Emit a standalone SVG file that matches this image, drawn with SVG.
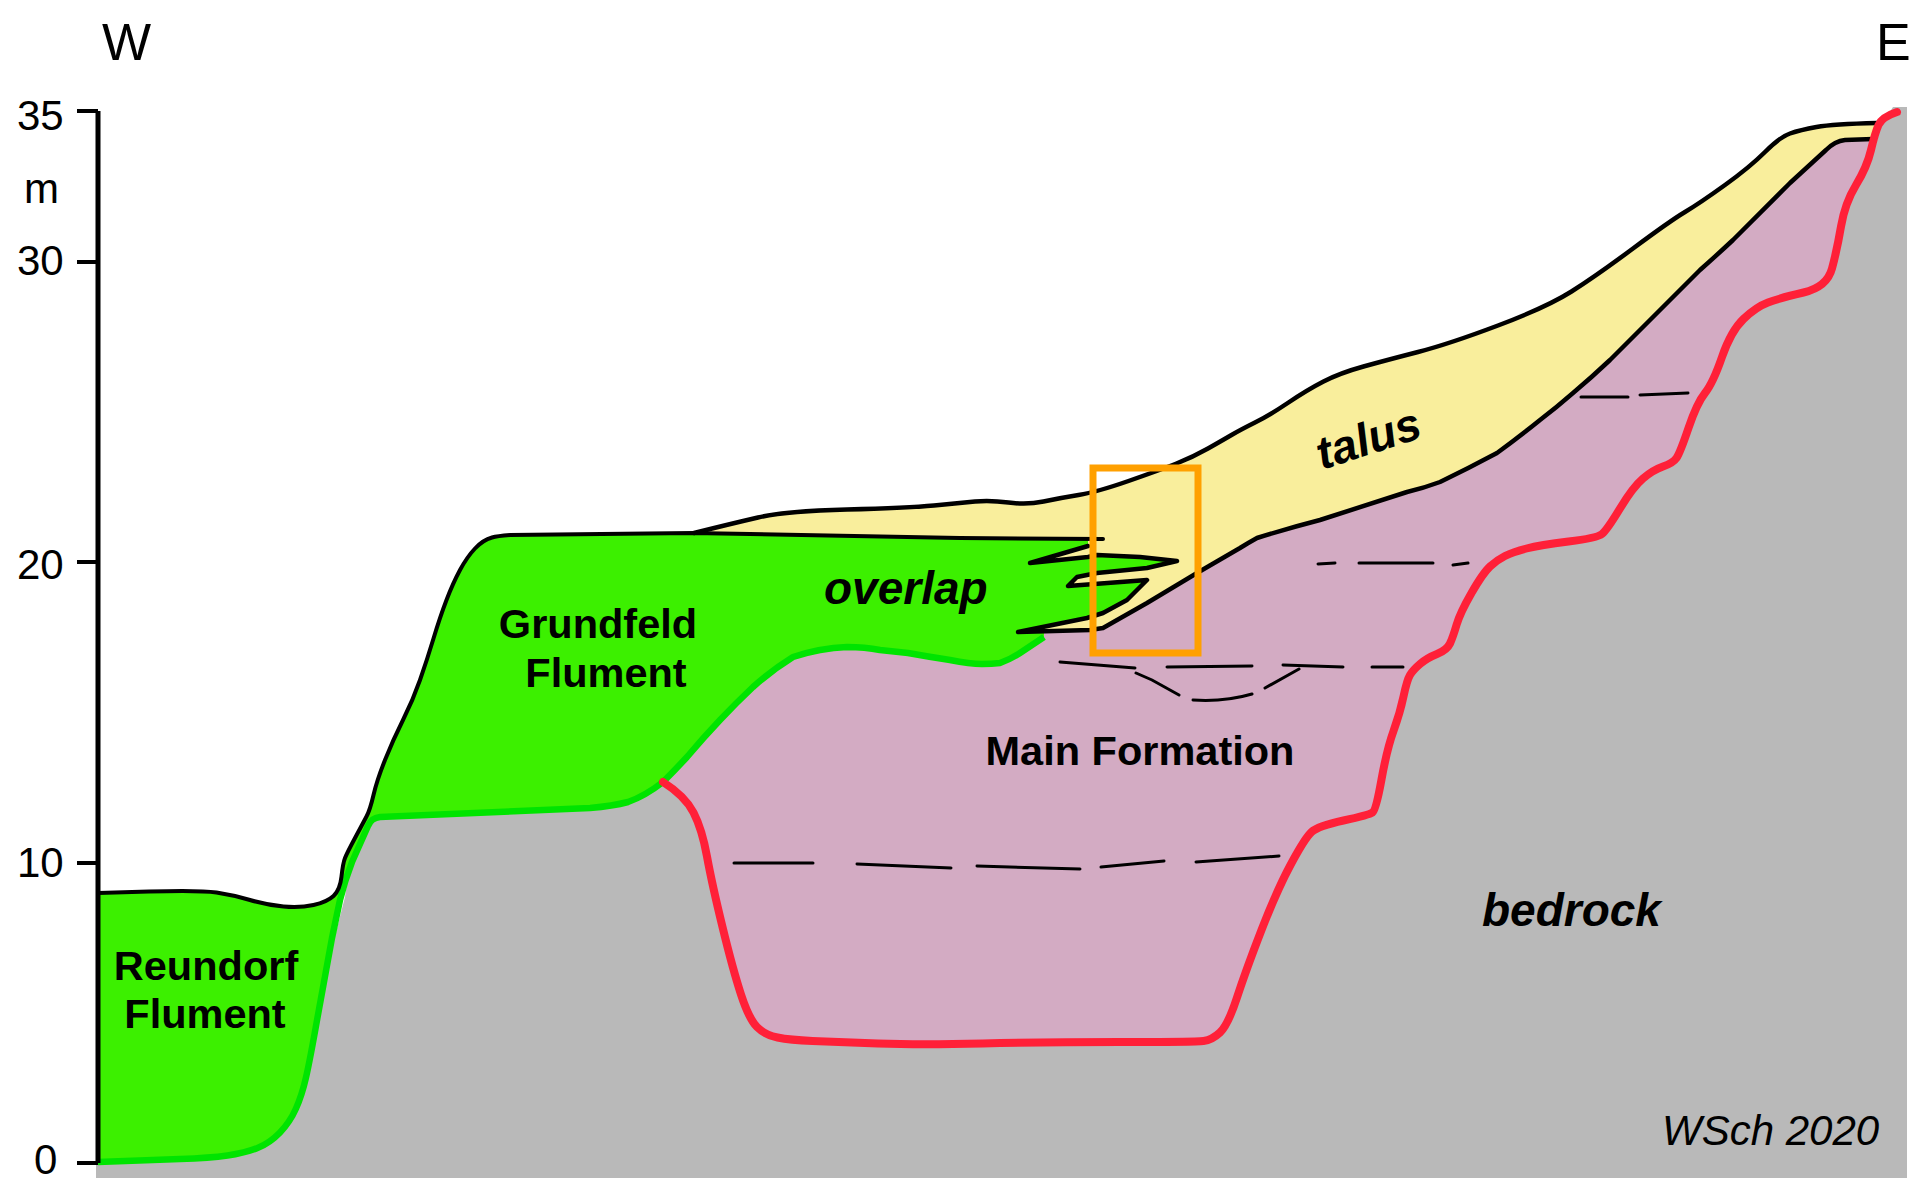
<svg xmlns="http://www.w3.org/2000/svg" width="1925" height="1201" viewBox="0 0 1925 1201">
<style>
.fill{stroke:none}
.ln{fill:none;stroke:#000;stroke-linejoin:round;stroke-linecap:round}
.t{font-family:"Liberation Sans",Arial,sans-serif;fill:#000}
.ax{font-size:42px}
.lab{font-size:41.5px;font-weight:bold}
.it{font-size:46px;font-weight:bold;font-style:italic}
.dash{fill:none;stroke:#000;stroke-width:3;stroke-linecap:round}
</style>
<rect width="1925" height="1201" fill="#fff"/>
<g id="bedrock">
<polygon class="fill" fill="#b9b9b9" points="96,1178 1907,1178 1907,107 1893,107 1872,140 1700,300 900,640 663,782 613,806 373,817 350,862 345,897 325,975 310,1060 302,1095 290,1122 270,1143 245,1153 210,1158 150,1160 96,1162"/>
</g>
<g id="talus">
<path class="fill" fill="#f9ee9c" d="M694,533 Q730,524 758,517.5 Q786,511 847,509.5 Q908,508 934,505.5 Q960,503 975,501.5 Q990,500 1008.5,502.5 Q1027,505 1043.5,501.5 Q1060,498 1078.5,495 Q1097,492 1128.5,481 Q1160,470 1176.5,463.5 Q1193,457 1208,448.5 Q1223,440 1231.5,435 Q1240,430 1255,422.5 Q1270,415 1288.5,402.5 Q1307,390 1323.5,381.5 Q1340,373 1363.5,366.5 Q1387,360 1418,352 Q1449,344 1498,325.5 Q1547,307 1571.5,291.5 Q1596,276 1633,248.5 Q1670,221 1685,212 Q1700,203 1725,185 Q1750,167 1765,152 Q1780,137 1790,133.5 Q1800,130 1816.5,127 Q1833,124 1877,123 L1878,140 L1845,140 Q1835,141 1826,150 L1790,183 L1733,240 Q1717,255 1700,270 L1610,360 Q1592,377 1573,393 Q1557,407 1540,420 Q1519,437 1497,453 Q1469,468 1440,482 Q1424,488 1407,492 L1320,520 Q1289,528 1257,538 Q1248,543 1240,548 L1197,573 L1147,603 L1103,628 L1090,630 L1018,632 L960,600 L960,538 Z"/>
</g>
<g id="main-formation">
<path class="fill" fill="#d3abc3" d="M663,782 Q685,796 693.5,812.5 Q702,829 707,856.5 Q712,884 722.5,927 Q733,970 741,994.5 Q749,1019 757,1027 Q765,1035 777.5,1037.5 Q790,1040 812.5,1041 Q835,1042 878,1043.5 Q921,1045 982.5,1043.5 Q1044,1042 1119.5,1042 Q1195,1042 1203.5,1041 Q1212,1040 1220,1032.5 Q1228,1025 1237,997.5 Q1246,970 1261.5,930 Q1277,890 1291,864 Q1305,838 1311.5,832 Q1318,826 1343.5,820.5 Q1369,815 1372.5,812.5 Q1376,810 1381.5,779.5 Q1387,749 1393.5,731 Q1400,713 1403.5,696.5 Q1407,680 1410,675 Q1413,670 1420,664 Q1427,658 1437,654 Q1447,650 1450,643.5 Q1453,637 1456.5,625 Q1460,613 1471.5,593 Q1483,573 1490,566.5 Q1497,560 1505,556 Q1513,552 1526.5,548.5 Q1540,545 1568.5,541.5 Q1597,538 1602,534 Q1607,530 1620,508.5 Q1633,487 1643,478.5 Q1653,470 1663,466.5 Q1673,463 1676.5,458 Q1680,453 1688.5,428 Q1697,403 1705,393 Q1713,383 1722,357 Q1731,331 1743.5,319 Q1756,307 1768,302.5 Q1780,298 1803.5,292.5 Q1827,287 1832,268.5 Q1837,250 1841,226.5 Q1845,203 1856,185 Q1867,167 1871,150 L1878,139 L1845,140 Q1835,141 1826,150 L1790,183 L1733,240 Q1717,255 1700,270 L1610,360 Q1592,377 1573,393 Q1557,407 1540,420 Q1519,437 1497,453 Q1469,468 1440,482 Q1424,488 1407,492 L1320,520 Q1289,528 1257,538 Q1248,543 1240,548 L1197,573 L1147,603 L1103,628 L1090,630 L1044,631 L1044,637 L1000,650 L880,640 L793,650 L720,710 Z"/>
</g>
<g id="flument">
<path class="fill" fill="#3cf000" d="M98,893 L149,891.5 Q200,890 216.5,892.5 Q233,895 250,900 Q267,905 283.5,906.5 Q300,908 313.5,905 Q327,902 333.5,896 Q340,890 341.5,876.5 Q343,863 345,858 Q347,853 355,838 Q363,823 366.5,816.5 Q370,810 373.5,795 Q377,780 385,760 Q393,740 403,720 Q413,700 420,680 Q427,660 433.5,638.5 Q440,617 446.5,600 Q453,583 460,570 Q467,557 475,548.5 Q483,540 492,537.5 Q497,536 510,535 L693,533 L960,538 L1088,540 L1088,546 L1030,563 L1088,557 L1097,555 L1140,557 L1177,561 L1147,568 L1097,573 L1077,577 L1068,586 L1147,580 L1127,600 L1103,613 L1087,618 L1018,632 L1044,631 L1044,637 L1020,653 L1000,663 L982,664 L950,660 L908,653 L880,650 L847,647 L820,650 L793,657 L753,687 L720,720 L687,757 L663,782 L640,798 L613,806 L373,817 L352,862 L345,880 L340,900 L325,975 L310,1060 L302,1095 L290,1122 L270,1143 L245,1153 L210,1158 L98,1162 Z"/>
<path fill="none" stroke="#00e400" stroke-width="6.5" stroke-linejoin="round" d="M98,1162 L180,1159 Q210,1158 227.5,1155.5 Q245,1153 257.5,1148 Q270,1143 280,1132.5 Q290,1122 296,1108.5 Q302,1095 306,1077.5 Q310,1060 317.5,1017.5 L332,938 L340,900 Q345,880 352,862 L368,826 Q371,818 380,817 L590,808 Q613,806 628,802 Q645,796 663,782 Q675,770 687,757 Q703,738 720,720 Q736,703 753,687 Q772,670 793,657 Q820,648 847,647 Q865,647 880,650 L908,653 Q930,657 950,660 Q970,664 982,664 Q992,664 1000,663 Q1011,659 1020,653 L1044,637"/>
</g>
<g id="boundaries">
<path class="ln" stroke-width="4" d="M98,893 L149,891.5 Q200,890 216.5,892.5 Q233,895 250,900 Q267,905 283.5,906.5 Q300,908 313.5,905 Q327,902 333.5,896 Q340,890 341.5,876.5 Q343,863 345,858 Q347,853 355,838 Q363,823 366.5,816.5 Q370,810 373.5,795 Q377,780 385,760 Q393,740 403,720 Q413,700 420,680 Q427,660 433.5,638.5 Q440,617 446.5,600 Q453,583 460,570 Q467,557 475,548.5 Q483,540 492,537.5 Q497,536 510,535 L693,533 L960,538 L1103,539"/>
<path class="ln" stroke-width="4.5" d="M694,533 Q730,524 758,517.5 Q786,511 847,509.5 Q908,508 934,505.5 Q960,503 975,501.5 Q990,500 1008.5,502.5 Q1027,505 1043.5,501.5 Q1060,498 1078.5,495 Q1097,492 1128.5,481 Q1160,470 1176.5,463.5 Q1193,457 1208,448.5 Q1223,440 1231.5,435 Q1240,430 1255,422.5 Q1270,415 1288.5,402.5 Q1307,390 1323.5,381.5 Q1340,373 1363.5,366.5 Q1387,360 1418,352 Q1449,344 1498,325.5 Q1547,307 1571.5,291.5 Q1596,276 1633,248.5 Q1670,221 1685,212 Q1700,203 1725,185 Q1750,167 1765,152 Q1780,137 1790,133.5 Q1800,130 1816.5,127 Q1833,124 1877,123"/>
<path class="ln" stroke-width="4.5" d="M1873,139 L1845,140 Q1835,141 1826,150 L1790,183 L1733,240 Q1717,255 1700,270 L1610,360 Q1592,377 1573,393 Q1557,407 1540,420 Q1519,437 1497,453 Q1469,468 1440,482 Q1424,488 1407,492 L1320,520 Q1289,528 1257,538 Q1248,543 1240,548 L1197,573 L1147,603 L1103,628 L1090,630 L1018,632 L1087,618 L1103,613 L1127,600 L1147,580 L1068,586 L1077,577 L1097,573 L1147,568 L1177,561 L1140,557 L1097,555 L1088,557 L1030,563 L1088,546"/>
<path fill="none" stroke="#ff2038" stroke-width="8" stroke-linejoin="round" stroke-linecap="round" d="M663,782 Q685,796 693.5,812.5 Q702,829 707,856.5 Q712,884 722.5,927 Q733,970 741,994.5 Q749,1019 757,1027 Q765,1035 777.5,1037.5 Q790,1040 812.5,1041 Q835,1042 878,1043.5 Q921,1045 982.5,1043.5 Q1044,1042 1119.5,1042 Q1195,1042 1203.5,1041 Q1212,1040 1220,1032.5 Q1228,1025 1237,997.5 Q1246,970 1261.5,930 Q1277,890 1291,864 Q1305,838 1311.5,832 Q1318,826 1343.5,820.5 Q1369,815 1372.5,812.5 Q1376,810 1381.5,779.5 Q1387,749 1393.5,731 Q1400,713 1403.5,696.5 Q1407,680 1410,675 Q1413,670 1420,664 Q1427,658 1437,654 Q1447,650 1450,643.5 Q1453,637 1456.5,625 Q1460,613 1471.5,593 Q1483,573 1490,566.5 Q1497,560 1505,556 Q1513,552 1526.5,548.5 Q1540,545 1568.5,541.5 Q1597,538 1602,534 Q1607,530 1620,508.5 Q1633,487 1643,478.5 Q1653,470 1663,466.5 Q1673,463 1676.5,458 Q1680,453 1688.5,428 Q1697,403 1705,393 Q1713,383 1722,357 Q1731,331 1743.5,319 Q1756,307 1768,302.5 Q1780,298 1803.5,292.5 Q1827,287 1832,268.5 Q1837,250 1841,226.5 Q1845,203 1856,185 Q1867,167 1871,150 Q1875,133 1878.5,125 Q1882,117 1897,112"/>
</g>
<g id="bedding">
<path class="dash" d="M1581,397H1628M1640,395L1688,393M1318,564L1335,563M1359,563H1433M1453,565L1468,563M1283,665L1343,667M1372,667H1403M1060,662L1135,668M1167,667L1252,666M1136,673L1152,680L1179,695M1193,700Q1225,702 1252,694M1265,688L1299,669M734,863H813M857,864L951,868M977,866L1080,869M1101,867L1164,861M1196,862L1279,856"/>
</g>
<g id="axis">
<path fill="none" stroke="#000" stroke-width="5" d="M98,111V1163"/>
<path fill="none" stroke="#000" stroke-width="4" d="M77,111H98M77,262H98M77,562H98M77,863H98M77,1163H98"/>
<text class="t ax" x="17" y="130">35</text>
<text class="t ax" x="24" y="203">m</text>
<text class="t ax" x="17" y="275">30</text>
<text class="t ax" x="17" y="579">20</text>
<text class="t ax" x="17" y="877">10</text>
<text class="t ax" x="34" y="1174">0</text>
<text class="t" style="font-size:52px" x="102" y="60">W</text>
<text class="t" style="font-size:52px" x="1876" y="60">E</text>
</g>
<g id="frame">
<rect x="1093" y="468" width="105" height="185" fill="none" stroke="#ffa000" stroke-width="7"/>
</g>
<g id="labels">
<text class="t lab" x="206" y="980" text-anchor="middle">Reundorf</text>
<text class="t lab" x="205" y="1028" text-anchor="middle">Flument</text>
<text class="t lab" x="598" y="638" text-anchor="middle">Grundfeld</text>
<text class="t lab" x="606" y="687" text-anchor="middle">Flument</text>
<text class="t lab" x="1140" y="765" text-anchor="middle">Main Formation</text>
<text class="t it" x="824" y="604">overlap</text>
<text class="t it" x="1322" y="470" transform="rotate(-18 1322 470)">talus</text>
<text class="t it" x="1482" y="926">bedrock</text>
<text class="t" style="font-size:42px;font-style:italic" x="1662" y="1145">WSch 2020</text>
</g>
</svg>
